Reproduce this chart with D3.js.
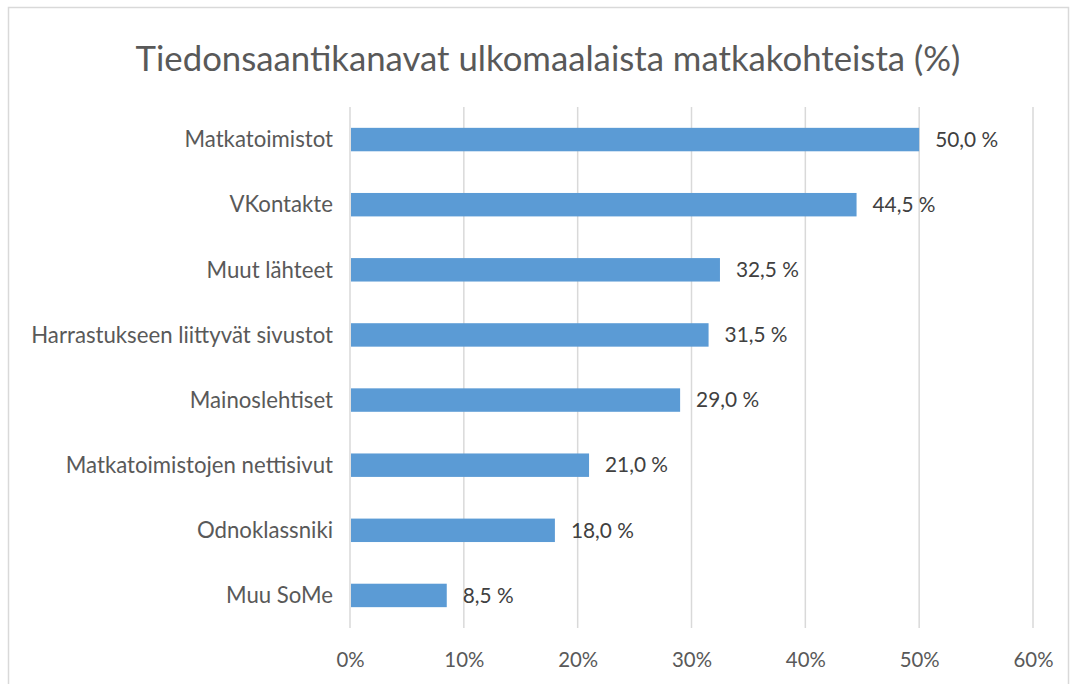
<!DOCTYPE html>
<html>
<head>
<meta charset="utf-8">
<script src="https://cdn.jsdelivr.net/npm/d3@7"></script>
<style>
  html, body { margin: 0; padding: 0; background: #fff; }
  svg { display: block; font-family: Lato, "Open Sans", sans-serif; }
</style>
</head>
<body>
<svg id="chart" width="1072" height="684"></svg>
<script>
const title = "Tiedonsaantikanavat ulkomaalaista matkakohteista (%)";
const categories = ["Matkatoimistot", "VKontakte", "Muut lähteet", "Harrastukseen liittyvät sivustot",
  "Mainoslehtiset", "Matkatoimistojen nettisivut", "Odnoklassniki", "Muu SoMe"];
const values = [50.0, 44.5, 32.5, 31.5, 29.0, 21.0, 18.0, 8.5];
const tickValues = [0, 10, 20, 30, 40, 50, 60];

const svg = d3.select("#chart");
const W = 1072, H = 684;
const plot = { left: 350, right: 1033, top: 107, bottom: 628 };

// outer chart border (clipped on right/bottom as in the reference)
svg.append("rect").attr("x", 8.5).attr("y", 7.5).attr("width", 1060).attr("height", 700)
  .attr("fill", "#fff").attr("stroke", "#d9d9d9").attr("stroke-width", 1.5);

const x = d3.scaleLinear().domain([0, 60]).range([plot.left, plot.right]);
const y = d3.scaleBand().domain(categories).range([plot.top, plot.bottom]).paddingInner(0.64).paddingOuter(0.32);

// fit font size of a text selection so that a reference item has target width
function fitFont(sel, refNode, target) {
  sel.attr("font-size", 100);
  const w = refNode.getComputedTextLength();
  sel.attr("font-size", 100 * target / w);
}

// gridlines
svg.append("g").selectAll("line").data(tickValues).join("line")
  .attr("x1", d => x(d)).attr("x2", d => x(d))
  .attr("y1", plot.top).attr("y2", plot.bottom)
  .attr("stroke", "#d9d9d9").attr("stroke-width", 1.5);

// bars
svg.append("g").selectAll("rect").data(values).join("rect")
  .attr("x", x(0) + 1)
  .attr("y", (d, i) => y(categories[i]))
  .attr("width", d => x(d) - x(0) - 1)
  .attr("height", y.bandwidth())
  .attr("fill", "#5b9bd5");

// title
const t = svg.append("text").text(title)
  .attr("x", 548).attr("y", 71).attr("text-anchor", "middle").attr("fill", "#595959");
fitFont(t, t.node(), 825);

// category labels
const cl = svg.append("g").selectAll("text").data(categories).join("text")
  .text(d => d)
  .attr("x", 333)
  .attr("y", d => y(d) + y.bandwidth() / 2)
  .attr("dy", "0.35em")
  .attr("text-anchor", "end").attr("fill", "#595959");
fitFont(cl, cl.nodes()[3], 302);

// value labels
const fmt = v => v.toFixed(1).replace(".", ",") + " %";
const vl = svg.append("g").selectAll("text").data(values).join("text")
  .text(d => fmt(d))
  .attr("x", d => x(d) + 16)
  .attr("y", (d, i) => y(categories[i]) + y.bandwidth() / 2)
  .attr("dy", "0.35em")
  .attr("fill", "#404040");
fitFont(vl, vl.nodes()[3], 63);

// x axis tick labels
const axis = d3.axisBottom(x).tickValues(tickValues).tickFormat(d => d + "%").tickSize(0).tickPadding(0);
const ag = svg.append("g").attr("transform", `translate(0, 653)`).call(axis);
ag.select(".domain").remove();
ag.selectAll("text").attr("fill", "#595959").attr("font-family", "Lato, 'Open Sans', sans-serif")
  .attr("dy", "0.71em");
const at = ag.selectAll("text");
fitFont(at, at.nodes()[6], 40);
</script>
</body>
</html>
